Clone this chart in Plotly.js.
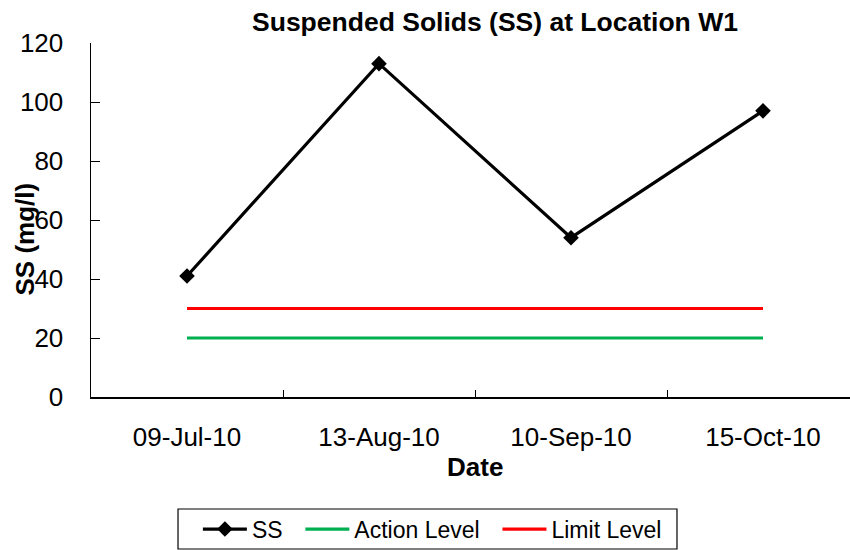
<!DOCTYPE html>
<html>
<head>
<meta charset="utf-8">
<script src="https://cdn.plot.ly/plotly-3.0.1.min.js"></script>
<style>
html,body{margin:0;padding:0;overflow:hidden;background:#fff;width:850px;height:550px;}
#chart{width:868px;height:550px;}
</style>
</head>
<body>
<div id="chart"></div>
<script>
const dates = ["09-Jul-10", "13-Aug-10", "10-Sep-10", "15-Oct-10"];
const ssValues = [41, 113, 54, 97];
const actionLevel = [20, 20, 20, 20];
const limitLevel = [30, 30, 30, 30];
const yTicks = [0, 20, 40, 60, 80, 100, 120];

const FONT = "Liberation Sans, Arial, sans-serif";
const PAD = "\u00a0\u00a0";

const traces = [
  {x: dates, y: ssValues, name: "SS" + PAD, type: "scatter", mode: "lines+markers",
   line: {color: "#000000", width: 3.2}, marker: {symbol: "diamond", size: 12, color: "#000000"}},
  {x: dates, y: actionLevel, name: "Action Level" + PAD, type: "scatter", mode: "lines",
   line: {color: "#00B050", width: 3.2}},
  {x: dates, y: limitLevel, name: "Limit Level" + PAD, type: "scatter", mode: "lines",
   line: {color: "#FF0000", width: 3.2}}
];

const layout = {
  width: 868, height: 550,
  margin: {l: 91, r: 9, t: 43, b: 153},
  paper_bgcolor: "#ffffff", plot_bgcolor: "#ffffff",
  font: {family: FONT, size: 26, color: "#000000"},
  showlegend: true,
  title: {text: "<b>Suspended Solids (SS) at Location W1</b>", font: {family: FONT, size: 26.5, color: "#000"},
          xref: "paper", x: 0.526, xanchor: "center", yref: "container", y: 0.96, yanchor: "middle",
          automargin: false},
  xaxis: {type: "category", range: [-0.5, 3.5], showgrid: false, zeroline: false, automargin: false,
          showline: true, linecolor: "#000", linewidth: 1.5,
          ticks: "inside", tickson: "boundaries", ticklen: 7, tickwidth: 1, tickcolor: "#000",
          ticklabelstandoff: 16, tickfont: {size: 26}},
  yaxis: {range: [0, 120], tickvals: yTicks, showgrid: false, zeroline: false, automargin: false,
          showline: true, linecolor: "#000", linewidth: 1.5,
          ticks: "inside", ticklen: 9, tickwidth: 1, tickcolor: "#000",
          ticklabelstandoff: 21, tickfont: {size: 26}},
  legend: {orientation: "h", xref: "paper", x: 0.453, xanchor: "center", yref: "container", y: 0.038, yanchor: "middle",
           borderwidth: 0, bgcolor: "rgba(0,0,0,0)", font: {size: 23}, itemwidth: 44},
  shapes: [
    {type: "rect", xref: "paper", yref: "paper", x0: 0.1133, x1: 0.763, y0: -0.4294, y1: -0.3164,
     line: {color: "#000", width: 1.2}, fillcolor: "rgba(0,0,0,0)", layer: "above"}
  ],
  annotations: [
    {text: "<b>Date</b>", xref: "paper", yref: "paper", x: 0.5, y: 0, yshift: -70, xanchor: "center", yanchor: "middle",
     showarrow: false, font: {family: FONT, size: 26}},
    {text: "<b>SS (mg/l)</b>", xref: "paper", yref: "paper", x: 0, xshift: -66, y: 0.445, xanchor: "center", yanchor: "middle",
     textangle: -90, showarrow: false, font: {family: FONT, size: 26}}
  ]
};

Plotly.newPlot("chart", traces, layout, {displayModeBar: false, staticPlot: true});
</script>
</body>
</html>
